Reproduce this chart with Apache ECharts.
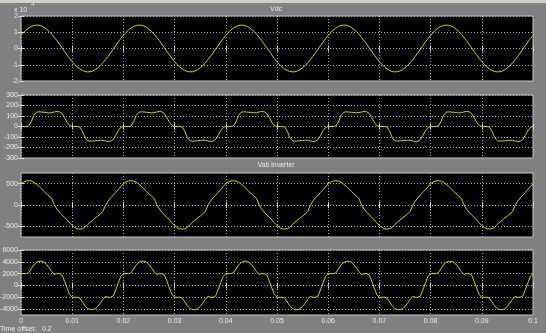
<!DOCTYPE html>
<html><head><meta charset="utf-8">
<script src="https://cdn.jsdelivr.net/npm/echarts@6/dist/echarts.min.js"></script>
<style>html,body{margin:0;padding:0;background:#808080;overflow:hidden}#wrap{position:relative;width:546px;height:333px;}#c{width:546px;height:333px;}#band{position:absolute;left:0;top:0;width:546px;height:3px;background:#d4d0c8;}</style>
</head><body><div id="wrap"><div id="c"></div><div id="band"></div></div>
<script>
// time samples in milliseconds (axis labelled in seconds)
const timeMs = [0,0.5,1,1.5,2,2.5,3,3.5,4,4.5,5,5.5,6,6.5,7,7.5,8,8.5,9,9.5,10,10.5,11,11.5,12,12.5,13,13.5,14,14.5,15,15.5,16,16.5,17,17.5,18,18.5,19,19.5,
20,20.5,21,21.5,22,22.5,23,23.5,24,24.5,25,25.5,26,26.5,27,27.5,28,28.5,29,29.5,30,30.5,31,31.5,32,32.5,33,33.5,34,34.5,35,35.5,36,36.5,37,37.5,38,38.5,39,39.5,
40,40.5,41,41.5,42,42.5,43,43.5,44,44.5,45,45.5,46,46.5,47,47.5,48,48.5,49,49.5,50,50.5,51,51.5,52,52.5,53,53.5,54,54.5,55,55.5,56,56.5,57,57.5,58,58.5,59,59.5,
60,60.5,61,61.5,62,62.5,63,63.5,64,64.5,65,65.5,66,66.5,67,67.5,68,68.5,69,69.5,70,70.5,71,71.5,72,72.5,73,73.5,74,74.5,75,75.5,76,76.5,77,77.5,78,78.5,79,79.5,
80,80.5,81,81.5,82,82.5,83,83.5,84,84.5,85,85.5,86,86.5,87,87.5,88,88.5,89,89.5,90,90.5,91,91.5,92,92.5,93,93.5,94,94.5,95,95.5,96,96.5,97,97.5,98,98.5,99,99.5,100];

const vdc = [8100,9860,11380,12610,13550,14150,14390,14290,13830,13030,11910,10490,8820,6930,4870,2700,450,-1800,-4020,-6130,-8100,-9860,-11380,-12610,-13550,-14150,-14390,-14290,-13830,-13030,-11910,-10490,-8820,-6930,-4870,-2700,-450,1800,4020,6130,
8100,9860,11380,12610,13550,14150,14390,14290,13830,13030,11910,10490,8820,6930,4870,2700,450,-1800,-4020,-6130,-8100,-9860,-11380,-12610,-13550,-14150,-14390,-14290,-13830,-13030,-11910,-10490,-8820,-6930,-4870,-2700,-450,1800,4020,6130,
8100,9860,11380,12610,13550,14150,14390,14290,13830,13030,11910,10490,8820,6930,4870,2700,450,-1800,-4020,-6130,-8100,-9860,-11380,-12610,-13550,-14150,-14390,-14290,-13830,-13030,-11910,-10490,-8820,-6930,-4870,-2700,-450,1800,4020,6130,
8100,9860,11380,12610,13550,14150,14390,14290,13830,13030,11910,10490,8820,6930,4870,2700,450,-1800,-4020,-6130,-8100,-9860,-11380,-12610,-13550,-14150,-14390,-14290,-13830,-13030,-11910,-10490,-8820,-6930,-4870,-2700,-450,1800,4020,6130,
8100,9860,11380,12610,13550,14150,14390,14290,13830,13030,11910,10490,8820,6930,4870,2700,450,-1800,-4020,-6130,-8100,-9860,-11380,-12610,-13550,-14150,-14390,-14290,-13830,-13030,-11910,-10490,-8820,-6930,-4870,-2700,-450,1800,4020,6130,
8100];

const vPhase = [0,0,0,5,45,105,135,140,138,136,133,130,132,138,143,140,125,85,40,8,0,0,0,-5,-45,-105,-135,-140,-138,-136,-133,-130,-132,-138,-143,-140,-125,-85,-40,-8,
0,0,0,5,45,105,135,140,138,136,133,130,132,138,143,140,125,85,40,8,0,0,0,-5,-45,-105,-135,-140,-138,-136,-133,-130,-132,-138,-143,-140,-125,-85,-40,-8,
0,0,0,5,45,105,135,140,138,136,133,130,132,138,143,140,125,85,40,8,0,0,0,-5,-45,-105,-135,-140,-138,-136,-133,-130,-132,-138,-143,-140,-125,-85,-40,-8,
0,0,0,5,45,105,135,140,138,136,133,130,132,138,143,140,125,85,40,8,0,0,0,-5,-45,-105,-135,-140,-138,-136,-133,-130,-132,-138,-143,-140,-125,-85,-40,-8,
0,0,0,5,45,105,135,140,138,136,133,130,132,138,143,140,125,85,40,8,0,0,0,-5,-45,-105,-135,-140,-138,-136,-133,-130,-132,-138,-143,-140,-125,-85,-40,-8,
0];

const vabInverter = [500,540,562,570,562,535,490,440,380,320,260,210,155,10,-95,-165,-230,-290,-350,-420,-480,-530,-555,-565,-555,-525,-460,-405,-355,-305,-260,-210,-150,-10,90,165,230,295,360,430,
500,540,562,570,562,535,490,440,380,320,260,210,155,10,-95,-165,-230,-290,-350,-420,-480,-530,-555,-565,-555,-525,-460,-405,-355,-305,-260,-210,-150,-10,90,165,230,295,360,430,
500,540,562,570,562,535,490,440,380,320,260,210,155,10,-95,-165,-230,-290,-350,-420,-480,-530,-555,-565,-555,-525,-460,-405,-355,-305,-260,-210,-150,-10,90,165,230,295,360,430,
500,540,562,570,562,535,490,440,380,320,260,210,155,10,-95,-165,-230,-290,-350,-420,-480,-530,-555,-565,-555,-525,-460,-405,-355,-305,-260,-210,-150,-10,90,165,230,295,360,430,
500,540,562,570,562,535,490,440,380,320,260,210,155,10,-95,-165,-230,-290,-350,-420,-480,-530,-555,-565,-555,-525,-460,-405,-355,-305,-260,-210,-150,-10,90,165,230,295,360,430,
500];

const vOut = [2000,2000,2000,2150,2800,3450,3900,4080,4100,3950,3550,3000,2350,1850,2000,2000,1800,750,-450,-1550,-2000,-2000,-2000,-2150,-2800,-3450,-3900,-4080,-4100,-3950,-3550,-3000,-2350,-1850,-2000,-2000,-1800,-750,450,1550,
2000,2000,2000,2150,2800,3450,3900,4080,4100,3950,3550,3000,2350,1850,2000,2000,1800,750,-450,-1550,-2000,-2000,-2000,-2150,-2800,-3450,-3900,-4080,-4100,-3950,-3550,-3000,-2350,-1850,-2000,-2000,-1800,-750,450,1550,
2000,2000,2000,2150,2800,3450,3900,4080,4100,3950,3550,3000,2350,1850,2000,2000,1800,750,-450,-1550,-2000,-2000,-2000,-2150,-2800,-3450,-3900,-4080,-4100,-3950,-3550,-3000,-2350,-1850,-2000,-2000,-1800,-750,450,1550,
2000,2000,2000,2150,2800,3450,3900,4080,4100,3950,3550,3000,2350,1850,2000,2000,1800,750,-450,-1550,-2000,-2000,-2000,-2150,-2800,-3450,-3900,-4080,-4100,-3950,-3550,-3000,-2350,-1850,-2000,-2000,-1800,-750,450,1550,
2000,2000,2000,2150,2800,3450,3900,4080,4100,3950,3550,3000,2350,1850,2000,2000,1800,750,-450,-1550,-2000,-2000,-2000,-2150,-2800,-3450,-3900,-4080,-4100,-3950,-3550,-3000,-2350,-1850,-2000,-2000,-1800,-750,450,1550,
2000];

const vdcTicks = [-20000,-10000,0,10000,20000];
const vPhaseTicks = [-300,-200,-100,0,100,200,300];
const vabTicks = [-500,0,500];
const vOutTicks = [-4000,-2000,0,2000,4000,6000];

const panels = [
  {values: vdc, ticks: vdcTicks, min: -20000, max: 20000, fmt: v => String(v / 10000)},
  {values: vPhase, ticks: vPhaseTicks, min: -300, max: 300, fmt: v => String(v)},
  {values: vabInverter, ticks: vabTicks, min: -750, max: 750, fmt: v => String(v)},
  {values: vOut, ticks: vOutTicks, min: -5000, max: 6000, fmt: v => String(v)}
];
const gridBoxes = [{top: 16, height: 65}, {top: 95, height: 63}, {top: 173, height: 64}, {top: 250, height: 65}];

const FONT = 'Liberation Sans';
const labelColor = '#eeeeee';
const gridLineStyle = {color: '#a8a8a8', width: 1, type: [1, 2]};
const tickStyle = {color: '#d8d8d8', width: 1};
const traceColor = '#d6d600';

const grid = [], xAxis = [], yAxis = [], series = [];
panels.forEach((p, i) => {
  const g = gridBoxes[i];
  grid.push({left: 21, right: 13, top: g.top, height: g.height, show: true, outerBoundsMode: 'none',
    backgroundColor: '#000', borderColor: '#c4c4c4', borderWidth: 1});
  xAxis.push({type: 'value', gridIndex: i, min: 0, max: 100, interval: 10,
    axisLine: {show: false},
    axisTick: {show: true, inside: true, length: 3, lineStyle: tickStyle},
    axisLabel: {show: i === 3, color: labelColor, fontSize: 7, margin: 3,
      formatter: v => (v === 0 ? '0' : String(Math.round(v) / 1000))},
    splitLine: {show: true, lineStyle: gridLineStyle}});
  xAxis.push({type: 'value', gridIndex: i, min: 0, max: 100, interval: 10, position: 'top',
    axisLine: {show: false},
    axisTick: {show: true, inside: true, length: 3, lineStyle: tickStyle},
    axisLabel: {show: false}, splitLine: {show: false}});
  yAxis.push({type: 'value', gridIndex: i, min: p.min, max: p.max,
    axisLine: {show: false},
    axisTick: {show: true, inside: true, length: 3, lineStyle: tickStyle, customValues: p.ticks},
    axisLabel: {show: true, color: labelColor, fontSize: 7, margin: 3,
      customValues: p.ticks, formatter: p.fmt},
    splitLine: {show: true, lineStyle: gridLineStyle}});
  yAxis.push({type: 'value', gridIndex: i, min: p.min, max: p.max, position: 'right',
    axisLine: {show: false},
    axisTick: {show: true, inside: true, length: 3, lineStyle: tickStyle, customValues: p.ticks},
    axisLabel: {show: false}, splitLine: {show: false}});
  series.push({type: 'line', xAxisIndex: 2 * i, yAxisIndex: 2 * i, showSymbol: false, symbol: 'none',
    data: timeMs.map((t, k) => [t, p.values[k]]),
    lineStyle: {color: traceColor, width: 1}, itemStyle: {color: traceColor}, silent: true});
});

const ts = (size) => ({color: labelColor, fontSize: size, fontWeight: 'normal', fontFamily: FONT});
const chart = echarts.init(document.getElementById('c'), null, {renderer: 'canvas'});
chart.setOption({
  animation: false,
  backgroundColor: '#808080',
  title: [
    {text: 'Vdc', left: 276, top: 6, textAlign: 'center', padding: 0, textStyle: ts(7)},
    {text: 'Vab inverter', left: 276, top: 162, textAlign: 'center', padding: 0, textStyle: ts(7)},
    {text: 'x 10', left: 14, top: 7, padding: 0, textStyle: ts(7)},
    {text: '4', left: 31, top: 1, padding: 0, textStyle: ts(6)},
    {text: 'Time offset:   0.2', left: 0, top: 326, padding: 0, textStyle: ts(7)}
  ],
  grid, xAxis, yAxis, series
});
</script></body></html>
